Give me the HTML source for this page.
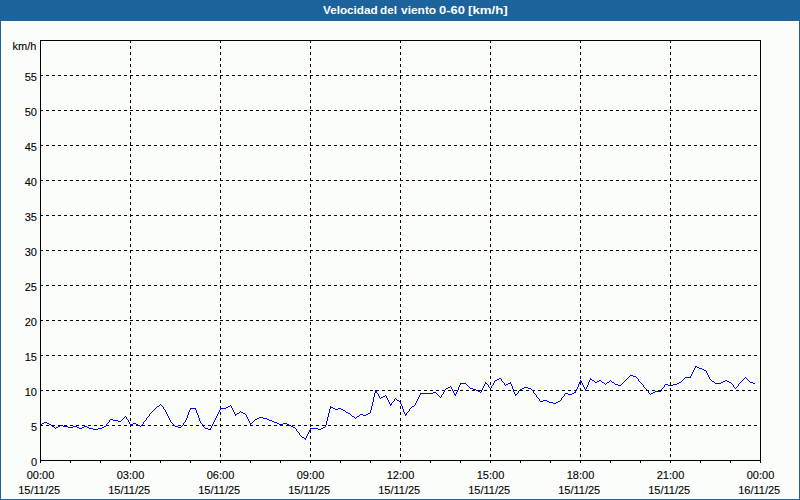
<!DOCTYPE html>
<html><head><meta charset="utf-8"><title>Velocidad del viento</title>
<style>
html,body{margin:0;padding:0;background:#fbfdfb;}
body{width:800px;height:500px;overflow:hidden;position:relative;font-family:"Liberation Sans",sans-serif;}
#box{position:absolute;left:0;top:0;width:798px;height:498px;border:1px solid #1c6399;border-top:none;height:499px;background:#fbfdfb;}
#hdr{position:absolute;z-index:2;background:none;left:0;top:0;width:800px;height:21px;color:#fff;font-weight:bold;font-size:11px;line-height:21px;}
#hdr span{position:absolute;z-index:3;top:0;white-space:nowrap;transform-origin:0 0;}
svg{position:absolute;left:0;top:0;z-index:1;}
#hbg{position:absolute;left:0;top:0;width:800px;height:21px;background:#1c6399;z-index:0;}
svg text{font-family:"Liberation Sans",sans-serif;font-size:11px;fill:#000;stroke:#000;stroke-width:0.1px;}
.g{stroke:#000;stroke-width:1;stroke-dasharray:3 3;shape-rendering:crispEdges;}
.a{stroke:#000;stroke-width:1;shape-rendering:crispEdges;}
.f{fill:none;stroke:#000;stroke-width:1;shape-rendering:crispEdges;}
.d{fill:none;stroke:#0000ff;stroke-width:1;shape-rendering:crispEdges;stroke-linejoin:round;}
</style></head><body>
<div id="box"></div>
<div id="hbg"></div>
<div id="hdr"><span style="left:323.00px;transform:scaleX(1.0620)">Velocidad</span><span style="left:380.00px;transform:scaleX(1.0650)">del</span><span style="left:401.20px;transform:scaleX(1.0850)">viento</span><span style="left:439.00px;transform:scaleX(1.1750)">0-60</span><span style="left:468.40px;transform:scaleX(1.2050)">[km/h]</span></div>
<svg width="800" height="500" viewBox="0 0 800 500">
<defs><pattern id="dz" width="24" height="15" patternUnits="userSpaceOnUse"><g fill="#1e64b0" shape-rendering="crispEdges"><rect x="16" y="0" width="1" height="1"/><rect x="5" y="1" width="1" height="1"/><rect x="12" y="1" width="1" height="1"/><rect x="20" y="1" width="1" height="1"/><rect x="2" y="2" width="1" height="1"/><rect x="7" y="2" width="1" height="1"/><rect x="10" y="2" width="1" height="1"/><rect x="15" y="2" width="1" height="1"/><rect x="18" y="2" width="1" height="1"/><rect x="23" y="2" width="1" height="1"/><rect x="4" y="4" width="1" height="1"/><rect x="11" y="4" width="1" height="1"/><rect x="19" y="4" width="1" height="1"/><rect x="2" y="5" width="1" height="1"/><rect x="8" y="5" width="1" height="1"/><rect x="13" y="5" width="1" height="1"/><rect x="16" y="5" width="1" height="1"/><rect x="21" y="5" width="1" height="1"/><rect x="6" y="6" width="1" height="1"/><rect x="11" y="7" width="1" height="1"/><rect x="19" y="7" width="1" height="1"/><rect x="1" y="8" width="1" height="1"/><rect x="4" y="8" width="1" height="1"/><rect x="7" y="8" width="1" height="1"/><rect x="15" y="8" width="1" height="1"/><rect x="23" y="8" width="1" height="1"/><rect x="9" y="9" width="1" height="1"/><rect x="13" y="9" width="1" height="1"/><rect x="17" y="9" width="1" height="1"/><rect x="21" y="9" width="1" height="1"/><rect x="2" y="11" width="1" height="1"/><rect x="5" y="11" width="1" height="1"/><rect x="8" y="11" width="1" height="1"/><rect x="12" y="11" width="1" height="1"/><rect x="16" y="11" width="1" height="1"/><rect x="20" y="11" width="1" height="1"/><rect x="3" y="13" width="1" height="1"/><rect x="10" y="13" width="1" height="1"/><rect x="14" y="13" width="1" height="1"/><rect x="18" y="13" width="1" height="1"/><rect x="22" y="13" width="1" height="1"/><rect x="7" y="14" width="1" height="1"/></g></pattern></defs><rect x="0" y="0" width="800" height="21" fill="url(#dz)"/>
<line x1="40" x2="758" y1="425.5" y2="425.5" class="g"/>
<line x1="40" x2="758" y1="390.5" y2="390.5" class="g"/>
<line x1="40" x2="758" y1="355.5" y2="355.5" class="g"/>
<line x1="40" x2="758" y1="320.5" y2="320.5" class="g"/>
<line x1="40" x2="758" y1="285.5" y2="285.5" class="g"/>
<line x1="40" x2="758" y1="250.5" y2="250.5" class="g"/>
<line x1="40" x2="758" y1="215.5" y2="215.5" class="g"/>
<line x1="40" x2="758" y1="180.5" y2="180.5" class="g"/>
<line x1="40" x2="758" y1="145.5" y2="145.5" class="g"/>
<line x1="40" x2="758" y1="110.5" y2="110.5" class="g"/>
<line x1="40" x2="758" y1="75.5" y2="75.5" class="g"/>
<line x1="130.5" x2="130.5" y1="40" y2="463" class="g"/>
<line x1="220.5" x2="220.5" y1="40" y2="463" class="g"/>
<line x1="310.5" x2="310.5" y1="40" y2="463" class="g"/>
<line x1="400.5" x2="400.5" y1="40" y2="463" class="g"/>
<line x1="490.5" x2="490.5" y1="40" y2="463" class="g"/>
<line x1="580.5" x2="580.5" y1="40" y2="463" class="g"/>
<line x1="670.5" x2="670.5" y1="40" y2="463" class="g"/>
<line x1="40.5" x2="40.5" y1="460" y2="463" class="a"/>
<line x1="70.5" x2="70.5" y1="460" y2="463" class="a"/>
<line x1="100.5" x2="100.5" y1="460" y2="463" class="a"/>
<line x1="130.5" x2="130.5" y1="460" y2="463" class="a"/>
<line x1="160.5" x2="160.5" y1="460" y2="463" class="a"/>
<line x1="190.5" x2="190.5" y1="460" y2="463" class="a"/>
<line x1="220.5" x2="220.5" y1="460" y2="463" class="a"/>
<line x1="250.5" x2="250.5" y1="460" y2="463" class="a"/>
<line x1="280.5" x2="280.5" y1="460" y2="463" class="a"/>
<line x1="310.5" x2="310.5" y1="460" y2="463" class="a"/>
<line x1="340.5" x2="340.5" y1="460" y2="463" class="a"/>
<line x1="370.5" x2="370.5" y1="460" y2="463" class="a"/>
<line x1="400.5" x2="400.5" y1="460" y2="463" class="a"/>
<line x1="430.5" x2="430.5" y1="460" y2="463" class="a"/>
<line x1="460.5" x2="460.5" y1="460" y2="463" class="a"/>
<line x1="490.5" x2="490.5" y1="460" y2="463" class="a"/>
<line x1="520.5" x2="520.5" y1="460" y2="463" class="a"/>
<line x1="550.5" x2="550.5" y1="460" y2="463" class="a"/>
<line x1="580.5" x2="580.5" y1="460" y2="463" class="a"/>
<line x1="610.5" x2="610.5" y1="460" y2="463" class="a"/>
<line x1="640.5" x2="640.5" y1="460" y2="463" class="a"/>
<line x1="670.5" x2="670.5" y1="460" y2="463" class="a"/>
<line x1="700.5" x2="700.5" y1="460" y2="463" class="a"/>
<line x1="730.5" x2="730.5" y1="460" y2="463" class="a"/>
<line x1="760.5" x2="760.5" y1="460" y2="463" class="a"/>
<path d="M695 366.5h2M695 367.5h1M697 367.5h2M694 368.5h1M699 368.5h3M694 369.5h1M702 369.5h2M693 370.5h1M704 370.5h2M693 371.5h1M706 371.5h1M692 372.5h1M706 372.5h1M692 373.5h1M707 373.5h1M691 374.5h1M707 374.5h1M630 375.5h3M691 375.5h1M708 375.5h1M629 376.5h1M633 376.5h3M690 376.5h1M708 376.5h1M628 377.5h1M636 377.5h1M685 377.5h6M709 377.5h1M745 377.5h1M499 378.5h2M590 378.5h1M627 378.5h1M637 378.5h1M684 378.5h1M709 378.5h1M744 378.5h1M746 378.5h1M497 379.5h2M501 379.5h1M590 379.5h2M626 379.5h1M638 379.5h1M683 379.5h1M710 379.5h1M743 379.5h1M747 379.5h1M495 380.5h2M501 380.5h1M580 380.5h1M589 380.5h1M592 380.5h2M599 380.5h2M610 380.5h1M625 380.5h1M638 380.5h1M682 380.5h1M711 380.5h1M725 380.5h2M742 380.5h1M748 380.5h1M494 381.5h1M502 381.5h1M580 381.5h2M589 381.5h1M594 381.5h1M597 381.5h2M601 381.5h1M609 381.5h1M611 381.5h1M624 381.5h1M639 381.5h1M681 381.5h1M712 381.5h2M723 381.5h2M727 381.5h2M741 381.5h1M749 381.5h1M485 382.5h1M494 382.5h1M503 382.5h1M510 382.5h1M579 382.5h1M581 382.5h1M588 382.5h1M595 382.5h2M602 382.5h2M607 382.5h2M612 382.5h2M623 382.5h1M640 382.5h1M679 382.5h2M714 382.5h1M721 382.5h2M729 382.5h2M740 382.5h1M750 382.5h3M460 383.5h6M485 383.5h2M493 383.5h1M504 383.5h1M508 383.5h3M579 383.5h1M582 383.5h1M588 383.5h1M604 383.5h1M606 383.5h1M614 383.5h1M622 383.5h1M641 383.5h1M677 383.5h2M715 383.5h6M731 383.5h1M739 383.5h1M753 383.5h2M460 384.5h1M466 384.5h1M484 384.5h1M487 384.5h1M493 384.5h1M504 384.5h1M506 384.5h2M511 384.5h1M578 384.5h1M582 384.5h1M588 384.5h1M605 384.5h1M615 384.5h3M621 384.5h1M642 384.5h1M665 384.5h3M673 384.5h4M732 384.5h1M738 384.5h1M459 385.5h1M467 385.5h1M484 385.5h1M488 385.5h1M492 385.5h1M505 385.5h1M511 385.5h1M578 385.5h1M583 385.5h1M587 385.5h1M618 385.5h3M643 385.5h1M664 385.5h1M668 385.5h5M733 385.5h1M738 385.5h1M450 386.5h1M459 386.5h1M468 386.5h1M483 386.5h1M488 386.5h1M491 386.5h1M512 386.5h1M578 386.5h1M583 386.5h1M587 386.5h1M643 386.5h1M664 386.5h1M733 386.5h1M737 386.5h1M448 387.5h2M451 387.5h1M458 387.5h1M469 387.5h1M483 387.5h1M489 387.5h1M491 387.5h1M512 387.5h1M524 387.5h4M577 387.5h1M584 387.5h1M586 387.5h1M644 387.5h1M663 387.5h1M734 387.5h1M736 387.5h1M446 388.5h2M451 388.5h1M458 388.5h1M470 388.5h3M482 388.5h1M490 388.5h1M512 388.5h1M522 388.5h2M528 388.5h3M577 388.5h1M584 388.5h1M586 388.5h1M645 388.5h1M662 388.5h1M735 388.5h1M445 389.5h1M452 389.5h1M458 389.5h1M473 389.5h3M482 389.5h1M513 389.5h1M520 389.5h2M531 389.5h1M576 389.5h1M585 389.5h1M646 389.5h1M661 389.5h1M375 390.5h1M444 390.5h1M452 390.5h1M457 390.5h1M476 390.5h2M481 390.5h1M513 390.5h1M519 390.5h1M532 390.5h1M576 390.5h1M585 390.5h1M647 390.5h1M661 390.5h1M375 391.5h2M444 391.5h1M453 391.5h1M457 391.5h1M478 391.5h2M481 391.5h1M513 391.5h1M518 391.5h1M533 391.5h1M575 391.5h1M648 391.5h1M655 391.5h6M375 392.5h2M433 392.5h3M443 392.5h1M453 392.5h1M456 392.5h1M480 392.5h1M514 392.5h1M518 392.5h1M533 392.5h1M574 392.5h2M648 392.5h1M653 392.5h2M374 393.5h1M377 393.5h1M420 393.5h13M436 393.5h1M443 393.5h1M454 393.5h1M456 393.5h1M514 393.5h1M517 393.5h1M534 393.5h1M565 393.5h3M572 393.5h2M649 393.5h1M651 393.5h2M374 394.5h1M378 394.5h1M420 394.5h1M437 394.5h1M442 394.5h1M454 394.5h2M515 394.5h2M535 394.5h1M564 394.5h1M568 394.5h4M650 394.5h1M374 395.5h1M378 395.5h1M385 395.5h1M419 395.5h1M438 395.5h1M441 395.5h1M455 395.5h1M515 395.5h1M536 395.5h1M564 395.5h1M374 396.5h1M379 396.5h1M383 396.5h2M386 396.5h1M419 396.5h1M439 396.5h1M441 396.5h1M536 396.5h1M563 396.5h1M373 397.5h1M379 397.5h1M381 397.5h2M386 397.5h1M418 397.5h1M440 397.5h1M537 397.5h1M562 397.5h1M373 398.5h1M380 398.5h1M387 398.5h1M395 398.5h1M418 398.5h1M538 398.5h1M561 398.5h1M373 399.5h1M387 399.5h1M394 399.5h1M396 399.5h1M417 399.5h1M539 399.5h1M561 399.5h1M373 400.5h1M388 400.5h1M394 400.5h1M397 400.5h2M417 400.5h1M539 400.5h1M543 400.5h4M560 400.5h1M373 401.5h1M388 401.5h1M393 401.5h1M399 401.5h1M416 401.5h1M540 401.5h3M547 401.5h2M558 401.5h2M372 402.5h1M389 402.5h1M392 402.5h1M400 402.5h1M416 402.5h1M549 402.5h4M556 402.5h2M372 403.5h1M389 403.5h1M391 403.5h1M400 403.5h1M415 403.5h1M553 403.5h3M160 404.5h1M372 404.5h1M390 404.5h2M401 404.5h1M415 404.5h1M159 405.5h1M161 405.5h1M230 405.5h1M372 405.5h1M390 405.5h1M401 405.5h1M414 405.5h1M157 406.5h2M162 406.5h1M228 406.5h2M231 406.5h1M330 406.5h1M371 406.5h1M402 406.5h1M412 406.5h2M156 407.5h1M163 407.5h1M226 407.5h2M231 407.5h1M330 407.5h3M371 407.5h1M402 407.5h1M411 407.5h1M155 408.5h1M163 408.5h1M190 408.5h6M220 408.5h6M232 408.5h1M330 408.5h1M333 408.5h2M338 408.5h3M371 408.5h1M402 408.5h1M410 408.5h1M154 409.5h1M164 409.5h1M190 409.5h1M195 409.5h1M220 409.5h1M232 409.5h1M329 409.5h1M335 409.5h3M341 409.5h2M371 409.5h1M403 409.5h1M409 409.5h1M153 410.5h1M165 410.5h1M189 410.5h1M196 410.5h1M219 410.5h1M233 410.5h1M329 410.5h1M343 410.5h2M370 410.5h1M403 410.5h1M409 410.5h1M152 411.5h1M165 411.5h1M189 411.5h1M196 411.5h1M219 411.5h1M233 411.5h1M240 411.5h1M329 411.5h1M345 411.5h1M370 411.5h1M403 411.5h1M408 411.5h1M151 412.5h1M166 412.5h1M188 412.5h1M196 412.5h1M218 412.5h1M234 412.5h1M239 412.5h1M241 412.5h2M329 412.5h1M346 412.5h2M370 412.5h1M404 412.5h1M407 412.5h1M150 413.5h1M166 413.5h1M188 413.5h1M197 413.5h1M218 413.5h1M234 413.5h1M237 413.5h2M243 413.5h2M328 413.5h1M348 413.5h2M368 413.5h2M404 413.5h1M406 413.5h1M149 414.5h1M167 414.5h1M188 414.5h1M197 414.5h1M217 414.5h1M235 414.5h2M245 414.5h1M328 414.5h1M350 414.5h1M360 414.5h3M366 414.5h2M405 414.5h2M149 415.5h1M167 415.5h1M187 415.5h1M198 415.5h1M217 415.5h1M235 415.5h1M246 415.5h1M328 415.5h1M351 415.5h1M359 415.5h1M363 415.5h3M405 415.5h1M125 416.5h1M148 416.5h1M168 416.5h1M187 416.5h1M198 416.5h1M216 416.5h1M246 416.5h1M328 416.5h1M352 416.5h2M357 416.5h2M124 417.5h1M126 417.5h1M147 417.5h1M168 417.5h1M187 417.5h1M198 417.5h1M216 417.5h1M247 417.5h1M259 417.5h4M327 417.5h1M354 417.5h1M356 417.5h1M123 418.5h1M126 418.5h1M146 418.5h1M169 418.5h1M186 418.5h1M199 418.5h1M215 418.5h1M247 418.5h1M257 418.5h2M263 418.5h4M327 418.5h1M355 418.5h1M110 419.5h3M122 419.5h1M127 419.5h1M146 419.5h1M169 419.5h1M186 419.5h1M199 419.5h1M215 419.5h1M248 419.5h1M255 419.5h2M267 419.5h2M327 419.5h1M109 420.5h1M113 420.5h5M121 420.5h1M128 420.5h1M145 420.5h1M170 420.5h1M185 420.5h1M199 420.5h1M214 420.5h1M248 420.5h1M254 420.5h1M269 420.5h3M327 420.5h1M109 421.5h1M118 421.5h3M128 421.5h1M144 421.5h1M170 421.5h1M185 421.5h1M200 421.5h1M214 421.5h1M249 421.5h1M253 421.5h1M272 421.5h2M326 421.5h1M44 422.5h3M108 422.5h1M129 422.5h1M143 422.5h1M171 422.5h1M184 422.5h1M200 422.5h1M213 422.5h1M249 422.5h1M252 422.5h1M274 422.5h3M326 422.5h1M42 423.5h2M47 423.5h2M107 423.5h1M129 423.5h1M133 423.5h3M143 423.5h1M172 423.5h1M183 423.5h1M201 423.5h1M213 423.5h1M250 423.5h2M277 423.5h2M283 423.5h4M326 423.5h1M40 424.5h2M49 424.5h2M106 424.5h1M130 424.5h3M136 424.5h2M142 424.5h1M173 424.5h1M183 424.5h1M202 424.5h1M212 424.5h1M250 424.5h1M279 424.5h4M287 424.5h2M326 424.5h1M51 425.5h1M60 425.5h3M106 425.5h1M138 425.5h2M141 425.5h1M174 425.5h1M182 425.5h1M203 425.5h1M212 425.5h1M289 425.5h2M325 425.5h1M52 426.5h2M58 426.5h2M63 426.5h5M73 426.5h4M84 426.5h3M104 426.5h2M140 426.5h1M175 426.5h3M181 426.5h1M203 426.5h1M211 426.5h1M291 426.5h2M325 426.5h1M54 427.5h1M56 427.5h2M68 427.5h5M77 427.5h2M82 427.5h2M87 427.5h2M102 427.5h2M178 427.5h3M204 427.5h1M211 427.5h1M293 427.5h2M323 427.5h2M55 428.5h1M79 428.5h3M89 428.5h4M98 428.5h4M205 428.5h3M210 428.5h1M295 428.5h1M310 428.5h8M321 428.5h2M93 429.5h5M208 429.5h3M296 429.5h1M310 429.5h1M318 429.5h3M296 430.5h1M309 430.5h1M297 431.5h1M309 431.5h1M298 432.5h1M308 432.5h1M299 433.5h1M308 433.5h1M299 434.5h1M307 434.5h1M300 435.5h1M307 435.5h1M301 436.5h1M306 436.5h1M302 437.5h2M306 437.5h1M304 438.5h2M305 439.5h1" class="d"/>
<rect x="40.5" y="40.5" width="720" height="420" class="f"/>
<text x="36.4" y="50" text-anchor="end">km/h</text>
<text x="37" y="466" text-anchor="end">0</text>
<text x="37" y="431" text-anchor="end">5</text>
<text x="37" y="396" text-anchor="end">10</text>
<text x="37" y="361" text-anchor="end">15</text>
<text x="37" y="326" text-anchor="end">20</text>
<text x="37" y="291" text-anchor="end">25</text>
<text x="37" y="256" text-anchor="end">30</text>
<text x="37" y="221" text-anchor="end">35</text>
<text x="37" y="186" text-anchor="end">40</text>
<text x="37" y="151" text-anchor="end">45</text>
<text x="37" y="116" text-anchor="end">50</text>
<text x="37" y="81" text-anchor="end">55</text>
<text x="40.5" y="479" text-anchor="middle">00:00</text>
<text x="39.2" y="494" text-anchor="middle">15/11/25</text>
<text x="130.5" y="479" text-anchor="middle">03:00</text>
<text x="129.2" y="494" text-anchor="middle">15/11/25</text>
<text x="220.5" y="479" text-anchor="middle">06:00</text>
<text x="219.2" y="494" text-anchor="middle">15/11/25</text>
<text x="310.5" y="479" text-anchor="middle">09:00</text>
<text x="309.2" y="494" text-anchor="middle">15/11/25</text>
<text x="400.5" y="479" text-anchor="middle">12:00</text>
<text x="399.2" y="494" text-anchor="middle">15/11/25</text>
<text x="490.5" y="479" text-anchor="middle">15:00</text>
<text x="489.2" y="494" text-anchor="middle">15/11/25</text>
<text x="580.5" y="479" text-anchor="middle">18:00</text>
<text x="579.2" y="494" text-anchor="middle">15/11/25</text>
<text x="670.5" y="479" text-anchor="middle">21:00</text>
<text x="669.2" y="494" text-anchor="middle">15/11/25</text>
<text x="760.5" y="479" text-anchor="middle">00:00</text>
<text x="759.2" y="494" text-anchor="middle">16/11/25</text>
</svg>
</body></html>
